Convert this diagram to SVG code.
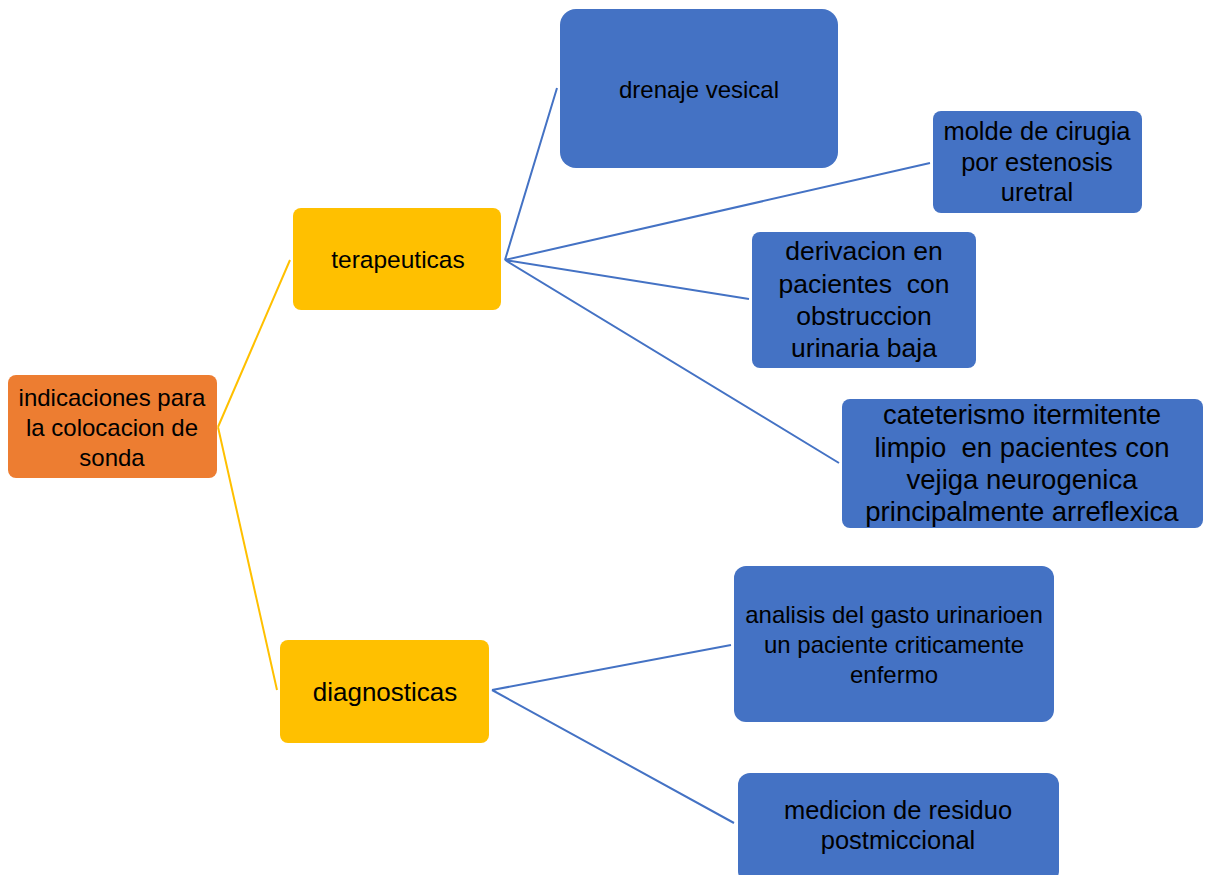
<svg xmlns="http://www.w3.org/2000/svg" width="1205" height="875" viewBox="0 0 1205 875">
<style>
text{font-family:"Liberation Sans",Arial,sans-serif;fill:#000;text-anchor:middle;dominant-baseline:central}
.y{stroke:#FFC000;stroke-width:2;fill:none}
.b{stroke:#4472C4;stroke-width:2;fill:none}
.nb{fill:#4472C4}
.ny{fill:#FFC000}
</style>
<rect width="1205" height="875" fill="#fff"/>
<g id="connectors">
<path class="y" d="M218,427 L290,260 M218,427 L277,690"/>
<path class="b" d="M505,260 L557,88 M505,260 L930,163 M505,260 L749,299 M505,260 L839,463"/>
<path class="b" d="M492,690 L731,645 M492,690 L734,823"/>
</g>
<g id="root" style="font-size:24px">
<rect x="8" y="375" width="209" height="103" rx="8" fill="#ED7D31"/>
<text x="112" y="397">indicaciones para</text>
<text x="112" y="427">la colocacion de</text>
<text x="112" y="457">sonda</text>
</g>
<g id="terapeuticas" style="font-size:24.5px">
<rect class="ny" x="293" y="208" width="208" height="102" rx="8"/>
<text x="398" y="259">terapeuticas</text>
</g>
<g id="diagnosticas" style="font-size:26px">
<rect class="ny" x="280" y="640" width="209" height="103" rx="8"/>
<text x="385" y="692">diagnosticas</text>
</g>
<g id="drenaje" style="font-size:24px">
<rect class="nb" x="560" y="9" width="278" height="159" rx="16"/>
<text x="699" y="89">drenaje vesical</text>
</g>
<g id="molde" style="font-size:25.5px">
<rect class="nb" x="933" y="111" width="209" height="102" rx="8"/>
<text x="1037" y="131">molde de cirugia</text>
<text x="1037" y="162">por estenosis</text>
<text x="1037" y="192">uretral</text>
</g>
<g id="derivacion" style="font-size:26.5px">
<rect class="nb" x="752" y="232" width="224" height="136" rx="8"/>
<text x="864" y="251">derivacion en</text>
<text x="864" y="284" xml:space="preserve">pacientes  con</text>
<text x="864" y="316">obstruccion</text>
<text x="864" y="348">urinaria baja</text>
</g>
<g id="cateterismo" style="font-size:27.5px">
<rect class="nb" x="842" y="399" width="361" height="129" rx="8"/>
<text x="1022" y="414">cateterismo itermitente</text>
<text x="1022" y="447" xml:space="preserve">limpio  en pacientes con</text>
<text x="1022" y="479">vejiga neurogenica</text>
<text x="1022" y="511">principalmente arreflexica</text>
</g>
<g id="analisis" style="font-size:24px">
<rect class="nb" x="734" y="566" width="320" height="156" rx="12"/>
<text x="894" y="614">analisis del gasto urinarioen</text>
<text x="894" y="644">un paciente criticamente</text>
<text x="894" y="674">enfermo</text>
</g>
<g id="medicion" style="font-size:25.5px">
<rect class="nb" x="738" y="773" width="321" height="110" rx="12"/>
<text x="898" y="810">medicion de residuo</text>
<text x="898" y="840">postmiccional</text>
</g>
</svg>
